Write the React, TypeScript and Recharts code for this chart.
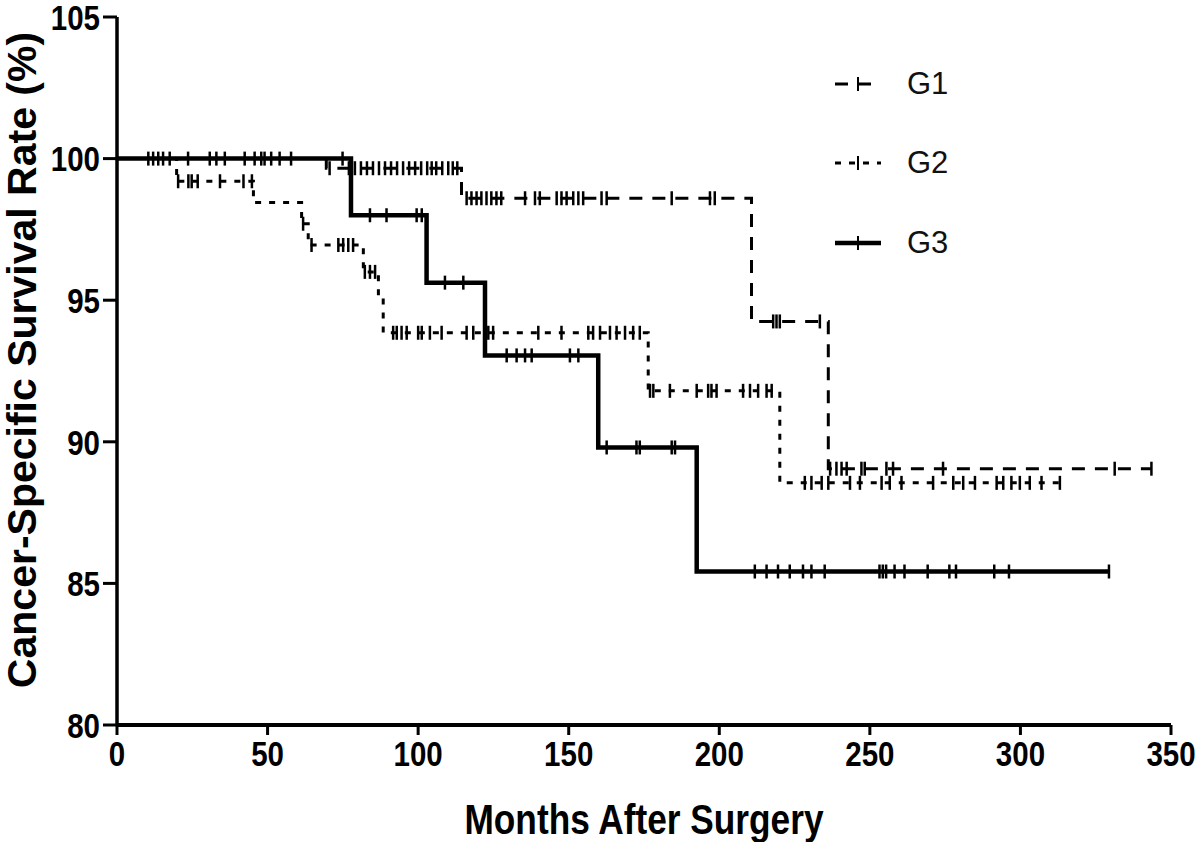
import React from 'react';
import { ComposedChart, Line, Scatter, XAxis, YAxis, Label } from 'recharts';

const monthTicks = [0, 50, 100, 150, 200, 250, 300, 350];
const rateTicks = [80, 85, 90, 95, 100, 105];

// step start times and survival levels; last entry = end of follow-up
const g1Times = [0, 69.5, 114.4, 210.7, 236.2, 343.5];
const g1Rates = [100, 99.66, 98.6, 94.25, 89.05, 89.05];
const g1Censored = [
  70.6, 77, 79, 81, 83, 85, 87, 89, 91, 93, 95, 97, 99, 101, 103, 104.5, 106, 108, 110, 111.5, 113,
  116.1, 117.7, 119.4, 121.0, 122.7, 124.3, 126.0, 127.6, 135.5, 138.8, 140.4, 146.0, 147.6, 149.3,
  151.5, 153.2, 154.8, 160.9, 162.6, 184.2, 196.9, 198.5, 217.9, 219, 220.1, 233.4, 236.8, 238.9,
  240.6, 242.3, 247.2, 248.3, 255.5, 257.7, 274.3, 331.3, 343.5,
];

const g2Times = [0, 19.8, 45.3, 61.3, 63.5, 81.8, 86.8, 88.4, 176.4, 220.1, 313.1];
const g2Rates = [100, 99.2, 98.45, 97.7, 96.95, 96.0, 95.1, 93.85, 91.8, 88.55, 88.55];
const g2Censored = [
  20.3, 23.7, 24.8, 26.8, 34.2, 42.0, 44.8, 61.8, 64.6, 73.5, 75.1, 76.8, 78.4, 82.3, 84.0, 85.7,
  91.7, 92.9, 94.5, 96.2, 100.0, 101.2, 103.9, 107.8, 116.1, 118.3, 123.3, 124.9, 139.9, 147.6,
  156.5, 158.1, 160.4, 163.7, 165.9, 168.7, 171.4, 173.6, 177.0, 178.1, 183.6, 192.5, 196.3, 197.4,
  199.1, 207.9, 210.2, 212.9, 215.7, 217.4, 228.4, 230.6, 234.0, 236.2, 243.4, 246.7, 253.9, 256.6,
  260.5, 271.0, 277.7, 281.0, 284.9, 292.1, 294.3, 297.0, 299.8, 303.1, 307.0, 313.1,
];

const g3Times = [0, 77.7, 102.8, 122.2, 159.8, 192.5, 329.5];
const g3Rates = [100, 98.0, 95.62, 93.05, 89.8, 85.42, 85.42];
const g3Censored = [
  10.4, 12.0, 13.7, 15.3, 17.5, 23.6, 30.8, 33.0, 35.8, 42.4, 45.7, 47.9, 49.0, 51.2, 54.0, 57.8,
  74.9, 84.0, 89.5, 99.5, 101.2, 108.9, 115.0, 129.4, 132.7, 135.5, 137.7, 150.4, 153.2, 162.6,
  172.5, 173.6, 184.2, 185.3, 211.8, 215.7, 219.5, 223.4, 227.8, 230.6, 235.0, 253.2, 254.3, 255.4,
  258.2, 261.5, 269.2, 276.4, 278.6, 291.3, 296.2, 329.4,
];

const steps = (times: number[], rates: number[]) => times.map((t, i) => ({ t, s: rates[i] }));
const rateAt = (times: number[], rates: number[], t: number) => {
  let r = rates[0];
  times.forEach((tt, i) => {
    if (tt <= t) r = rates[i];
  });
  return r;
};
const censors = (times: number[], rates: number[], cens: number[]) =>
  cens.map((t) => ({ t, s: rateAt(times, rates, t) }));

const font = "'Liberation Sans', Arial, sans-serif";
const squeeze = 0.82; // the reference uses a condensed bold face

const series = [
  { name: 'G1', times: g1Times, rates: g1Rates, cens: g1Censored, dash: '13 10', width: 3 },
  { name: 'G2', times: g2Times, rates: g2Rates, cens: g2Censored, dash: '6 8', width: 3 },
  { name: 'G3', times: g3Times, rates: g3Rates, cens: g3Censored, dash: undefined, width: 4.5 },
];

const CensorTick = (props: any) => {
  const { cx, cy } = props;
  return <line x1={cx} x2={cx} y1={cy - 7} y2={cy + 7} stroke="#000" strokeWidth={2.5} />;
};

const XTick = ({ x, y, payload }: any) => (
  <g transform={`translate(${x},${y}) scale(${squeeze},1)`}>
    <text textAnchor="middle" dy="0.71em" fontSize={36} fontWeight={700} fontFamily={font} fill="#000">
      {payload.value}
    </text>
  </g>
);

const YTick = ({ x, y, payload }: any) => (
  <g transform={`translate(${x},${y}) scale(${squeeze},1)`}>
    <text textAnchor="end" dy="0.355em" fontSize={36} fontWeight={700} fontFamily={font} fill="#000">
      {payload.value}
    </text>
  </g>
);

const LegendBox = () => (
  <div style={{ position: 'absolute', left: 835, top: 44 }}>
    {series.map((s) => (
      <div key={s.name} style={{ display: 'flex', alignItems: 'center', height: 79.5 }}>
        <svg width={48} height={20}>
          <line x1={0} y1={10} x2={46} y2={10} stroke="#000" strokeWidth={s.width} strokeDasharray={s.dash} />
          <line x1={23} y1={3} x2={23} y2={17} stroke="#000" strokeWidth={2} />
        </svg>
        <span style={{ marginLeft: 24, fontSize: 31, fontFamily: font, color: '#111' }}>{s.name}</span>
      </div>
    ))}
  </div>
);

export default function App() {
  return (
    <div style={{ position: 'absolute', left: 0, top: 0, width: 1200, height: 842, background: '#fff' }}>
      <ComposedChart width={1200} height={842} margin={{ top: 17, right: 29, bottom: 0, left: 0 }}>
        <XAxis
          type="number"
          dataKey="t"
          domain={[0, 350]}
          ticks={monthTicks}
          height={117}
          tickSize={10}
          tickMargin={5}
          axisLine={{ stroke: '#000', strokeWidth: 4 }}
          tickLine={{ stroke: '#000', strokeWidth: 3 }}
          tick={<XTick />}
        >
          <Label
            content={() => (
              <g transform={`translate(644,834) scale(${squeeze},1)`}>
                <text textAnchor="middle" fontSize={43} fontWeight={700} fontFamily={font} fill="#000">
                  Months After Surgery
                </text>
              </g>
            )}
          />
        </XAxis>
        <YAxis
          type="number"
          domain={[80, 105]}
          ticks={rateTicks}
          width={117}
          tickSize={14}
          tickMargin={3}
          axisLine={{ stroke: '#000', strokeWidth: 3.5 }}
          tickLine={{ stroke: '#000', strokeWidth: 3 }}
          tick={<YTick />}
        >
          <Label
            content={() => (
              <text
                x={36}
                y={360}
                transform="rotate(-90, 36, 360)"
                textAnchor="middle"
                fontSize={41}
                fontWeight={700}
                fontFamily={font}
                fill="#000"
              >
                Cancer-Specific Survival Rate (%)
              </text>
            )}
          />
        </YAxis>
        {series.map((s) => (
          <Line
            key={s.name}
            data={steps(s.times, s.rates)}
            dataKey="s"
            name={s.name}
            type="stepAfter"
            stroke="#000"
            strokeWidth={s.width}
            strokeDasharray={s.dash}
            dot={false}
            activeDot={false}
            isAnimationActive={false}
          />
        ))}
        {series.map((s) => (
          <Scatter
            key={s.name + '-c'}
            data={censors(s.times, s.rates, s.cens)}
            dataKey="s"
            shape={CensorTick}
            isAnimationActive={false}
          />
        ))}
      </ComposedChart>
      <LegendBox />
    </div>
  );
}
